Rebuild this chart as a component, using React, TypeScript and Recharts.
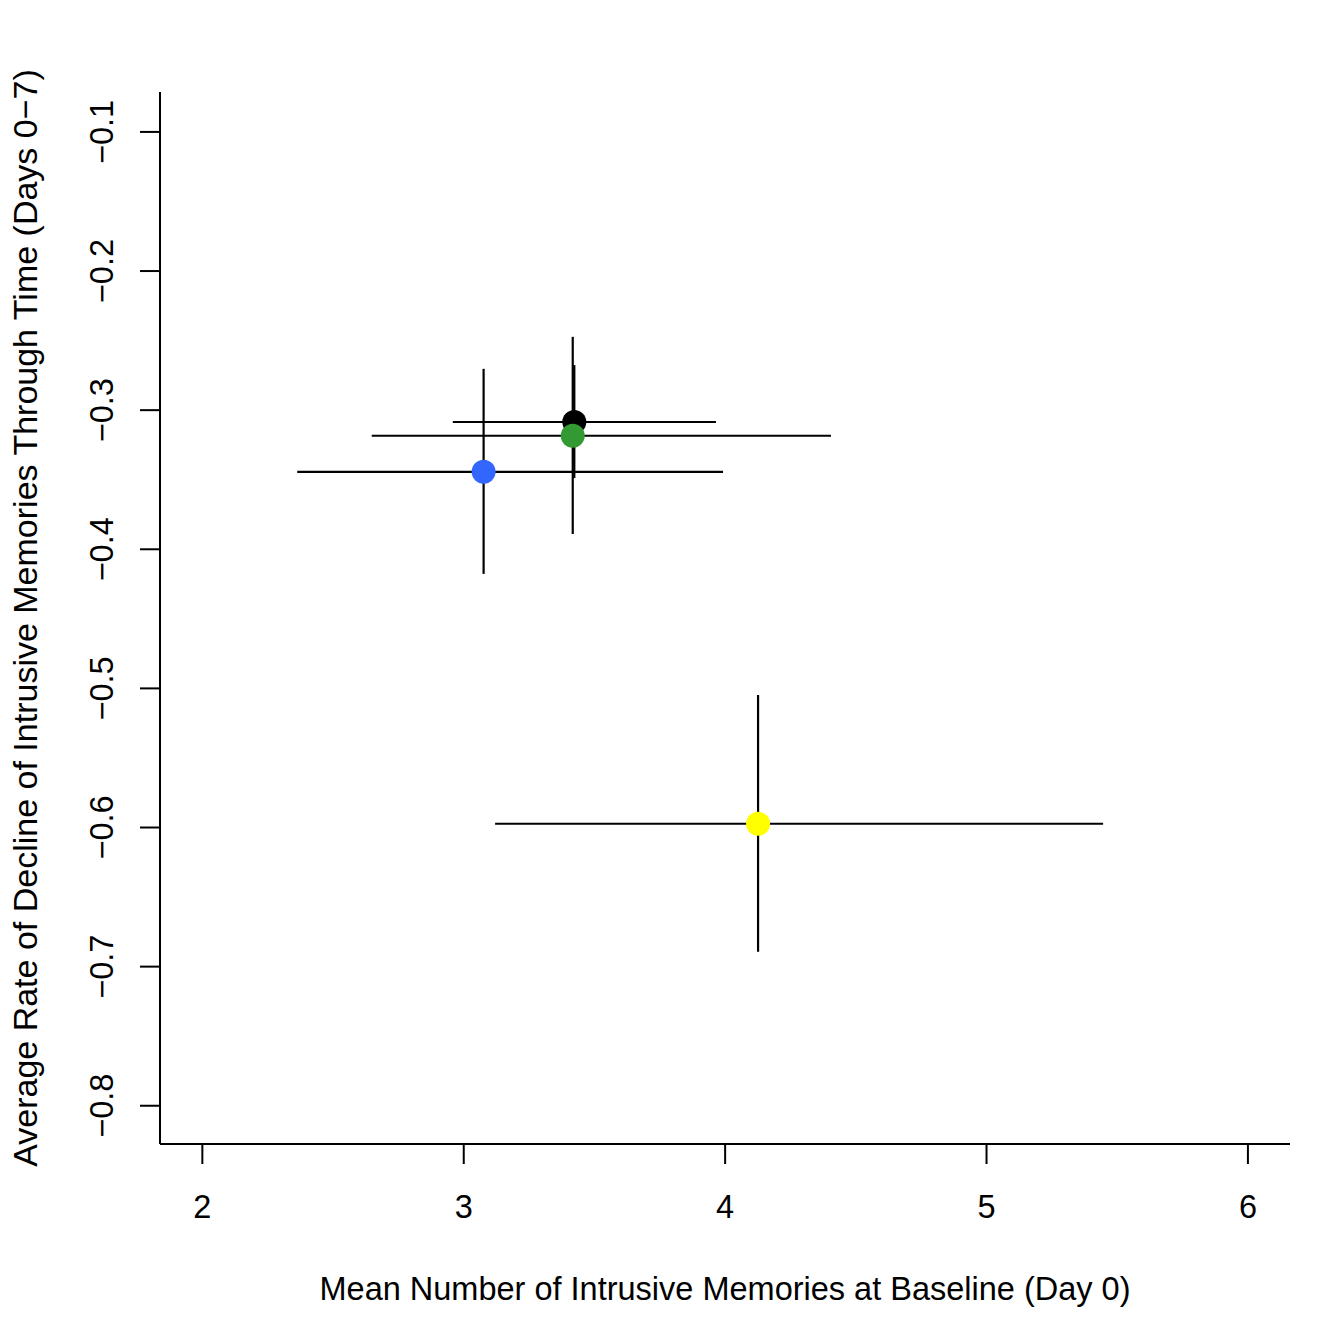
import React from 'react';
import { ScatterChart, Scatter, XAxis, YAxis, ErrorBar, Label } from 'recharts';

const FONT = '"Liberation Sans", Arial, Helvetica, sans-serif';
const FS = 32.5;

// Groups (point colours)
const groupColors = ['#000000', '#339933', '#3366FF', '#FFFF00'];
// Mean number of intrusive memories at baseline (x) with interval bounds
const xMean = [3.423, 3.417, 3.076, 4.126];
const xLow = [2.958, 2.648, 2.363, 3.12];
const xHigh = [3.965, 4.405, 3.992, 5.446];
// Average rate of decline (y) with interval bounds
const yMean = [-0.3085, -0.3184, -0.3443, -0.5973];
const yLow = [-0.3488, -0.389, -0.4177, -0.6893];
const yHigh = [-0.2676, -0.2473, -0.2703, -0.5047];

const xTicks = [2, 3, 4, 5, 6];
const yTicks = [-0.8, -0.7, -0.6, -0.5, -0.4, -0.3, -0.2, -0.1];
const xDomain = [1.838, 6.161];
const yDomain = [-0.8275, -0.0713];

const xTitle = 'Mean Number of Intrusive Memories at Baseline (Day 0)';
const yTitle = 'Average Rate of Decline of Intrusive Memories Through Time (Days 0\u22127)';

const data = groupColors.map((c, i) => ({
  x: xMean[i],
  y: yMean[i],
  ex: [xMean[i] - xLow[i], xHigh[i] - xMean[i]],
  ey: [yMean[i] - yLow[i], yHigh[i] - yMean[i]],
  color: c,
}));

const fmtY = (v: number) => (v < 0 ? '\u2212' : '') + Math.abs(v).toFixed(1);

const XTick = (props: any) => {
  const { x, y, payload } = props;
  return (
    <text x={x} y={y + 52} textAnchor="middle" fontFamily={FONT} fontSize={FS} fill="#000">
      {payload.value}
    </text>
  );
};

const YTick = (props: any) => {
  const { x, y, payload } = props;
  const tx = x - 25;
  return (
    <text x={tx} y={y} textAnchor="middle" fontFamily={FONT} fontSize={FS} fill="#000" transform={`rotate(-90, ${tx}, ${y})`}>
      {fmtY(payload.value)}
    </text>
  );
};

const Dot = (props: any) => {
  const { cx, cy, payload } = props;
  return <circle cx={cx} cy={cy} r={12} fill={payload.color} />;
};

const Empty = () => <g />;

export default function App() {
  return (
    <div style={{ position: 'absolute', left: 0, top: 0, width: 1318, height: 1318, background: '#fff' }}>
      <ScatterChart width={1318} height={1318} margin={{ top: 92, right: 28, bottom: 0, left: 0 }}>
        <XAxis
          type="number"
          dataKey="x"
          domain={xDomain}
          ticks={xTicks}
          allowDataOverflow
          height={174}
          tickSize={20}
          tick={<XTick />}
          axisLine={{ stroke: '#000', strokeWidth: 2 }}
          tickLine={{ stroke: '#000', strokeWidth: 2 }}
        >
          <Label
            content={(p: any) => {
              const vb = p.viewBox || { x: 160, y: 1144, width: 1130 };
              return (
                <text x={vb.x + vb.width / 2} y={vb.y + 156} textAnchor="middle" fontFamily={FONT} fontSize={FS} fill="#000">
                  {xTitle}
                </text>
              );
            }}
          />
        </XAxis>
        <YAxis
          type="number"
          dataKey="y"
          domain={yDomain}
          ticks={yTicks}
          allowDataOverflow
          width={160}
          tickSize={20}
          tick={<YTick />}
          axisLine={{ stroke: '#000', strokeWidth: 2 }}
          tickLine={{ stroke: '#000', strokeWidth: 2 }}
        >
          <Label
            content={(p: any) => {
              const vb = p.viewBox || { x: 0, y: 92, height: 1052 };
              const cy = vb.y + vb.height / 2;
              const cx = 37;
              return (
                <text x={cx} y={cy} textAnchor="middle" fontFamily={FONT} fontSize={34} fill="#000" transform={`rotate(-90, ${cx}, ${cy})`}>
                  {yTitle}
                </text>
              );
            }}
          />
        </YAxis>
        {data.map((d, i) => (
          <Scatter key={'e' + i} data={[d]} shape={Empty} isAnimationActive={false}>
            <ErrorBar dataKey="ex" direction="x" width={0} stroke="#000" strokeWidth={2.2} isAnimationActive={false} />
            <ErrorBar dataKey="ey" direction="y" width={0} stroke="#000" strokeWidth={2.2} isAnimationActive={false} />
          </Scatter>
        ))}
        {data.map((d, i) => (
          <Scatter key={'p' + i} data={[d]} shape={Dot} isAnimationActive={false} />
        ))}
      </ScatterChart>
    </div>
  );
}
